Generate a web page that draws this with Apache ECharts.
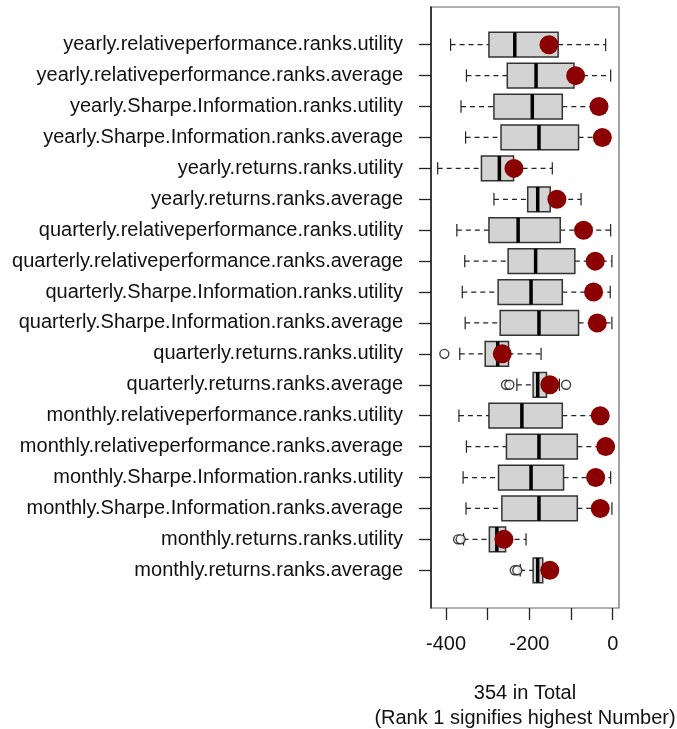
<!DOCTYPE html>
<html>
<head>
<meta charset="utf-8">
<script src="https://cdn.jsdelivr.net/npm/echarts@6/dist/echarts.min.js"></script>
<style>
  html, body { margin: 0; padding: 0; background: #fff; }
  #chart { width: 677px; height: 729px; }
</style>
</head>
<body>
<div id="chart"></div>
<script>
// rows listed top to bottom, as in the picture
const categories = [
  "yearly.relativeperformance.ranks.utility",
  "yearly.relativeperformance.ranks.average",
  "yearly.Sharpe.Information.ranks.utility",
  "yearly.Sharpe.Information.ranks.average",
  "yearly.returns.ranks.utility",
  "yearly.returns.ranks.average",
  "quarterly.relativeperformance.ranks.utility",
  "quarterly.relativeperformance.ranks.average",
  "quarterly.Sharpe.Information.ranks.utility",
  "quarterly.Sharpe.Information.ranks.average",
  "quarterly.returns.ranks.utility",
  "quarterly.returns.ranks.average",
  "monthly.relativeperformance.ranks.utility",
  "monthly.relativeperformance.ranks.average",
  "monthly.Sharpe.Information.ranks.utility",
  "monthly.Sharpe.Information.ranks.average",
  "monthly.returns.ranks.utility",
  "monthly.returns.ranks.average",
];

const lowerWhisker = [-389, -351, -364, -353, -420, -285, -374, -355, -361, -354, -367, -230, -369, -351, -359, -352, -358, -222];
const lowerHinge   = [-297, -253, -285, -268, -315, -204, -297, -251, -275, -270, -306, -191, -297, -255, -274, -266, -296, -191];
const medians      = [-235, -184, -193, -177, -272, -180, -227, -185, -196, -177, -276, -180, -218, -177, -196, -177, -278, -180];
const upperHinge   = [-131, -93, -121, -82, -238, -150, -126, -91, -121, -82, -250, -159, -121, -85, -118, -85, -257, -168];
const upperWhisker = [-17, -5, -30, -20, -145, -76, -5, -2, -6, -2, -172, -128, -25, -10, -5, -2, -208, -155];

// red points
const markValues = [-153, -89, -33, -25, -237, -134, -70, -42, -46, -37, -265, -151, -30, -17, -41, -30, -261, -151];

// outliers: row index (top = 0) and value
const outlierRows   = [10, 11, 11, 11, 16, 16, 17, 17];
const outlierValues = [-404, -256, -248, -112, -371, -365, -235, -229];

const xTicks = [-400, -300, -200, -100, 0];
const xTickLabels = [-400, -200, 0];

const n = categories.length;
const rowPos = (i) => n - i;

const FONT = "Liberation Sans, Arial, Helvetica, sans-serif";
const TEXT = "#111";

function renderBox(params, api) {
  const y = api.value(0);
  const lo = api.coord([api.value(1), y]);
  const q1 = api.coord([api.value(2), y]);
  const md = api.coord([api.value(3), y]);
  const q3 = api.coord([api.value(4), y]);
  const hi = api.coord([api.value(5), y]);
  const half = api.size([0, 0.4])[1];
  const cap = half / 2;
  const cy = q1[1];
  const dash = { stroke: "#222", lineWidth: 1.2, lineDash: [5, 4] };
  const solid = { stroke: "#222", lineWidth: 1.2 };
  return {
    type: "group",
    children: [
      { type: "line", shape: { x1: lo[0], y1: cy, x2: q1[0], y2: cy }, style: dash },
      { type: "line", shape: { x1: q3[0], y1: cy, x2: hi[0], y2: cy }, style: dash },
      { type: "line", shape: { x1: lo[0], y1: cy - cap, x2: lo[0], y2: cy + cap }, style: solid },
      { type: "line", shape: { x1: hi[0], y1: cy - cap, x2: hi[0], y2: cy + cap }, style: solid },
      {
        type: "rect",
        shape: { x: q1[0], y: cy - half, width: q3[0] - q1[0], height: half * 2 },
        style: { fill: "#d3d3d3", stroke: "#333", lineWidth: 1.5 },
      },
      { type: "line", shape: { x1: md[0], y1: cy - half, x2: md[0], y2: cy + half }, style: { stroke: "#000", lineWidth: 3.5 } },
    ],
  };
}

const rowTicks = categories.map((c, i) => rowPos(i));

const option = {
  animation: false,
  grid: {
    left: 431, right: 58, top: 7, bottom: 121,
    outerBoundsMode: "none",
    containLabel: false,
    show: true, borderColor: "#666", borderWidth: 1.2, backgroundColor: "transparent",
  },
  xAxis: {
    type: "value",
    min: -436,
    max: 15,
    axisLine: { show: false, onZero: false },
    splitLine: { show: false },
    axisTick: { show: true, customValues: xTicks, length: 12, lineStyle: { color: "#222", width: 1.3 } },
    axisLabel: { customValues: xTickLabels, fontSize: 20, fontFamily: FONT, color: TEXT, margin: 26 },
    name: "354 in Total\n(Rank 1 signifies highest Number)",
    nameLocation: "middle",
    nameGap: 73,
    nameTextStyle: { fontSize: 20, fontFamily: FONT, color: TEXT, lineHeight: 25 },
  },
  yAxis: {
    type: "value",
    min: -0.22,
    max: 19.22,
    axisLine: { show: true, onZero: false, lineStyle: { color: "#222", width: 1.6 } },
    splitLine: { show: false },
    axisTick: { show: true, customValues: rowTicks, length: 12, lineStyle: { color: "#222", width: 1.3 } },
    axisLabel: {
      customValues: rowTicks,
      fontSize: 20,
      fontFamily: FONT,
      color: TEXT,
      margin: 28,
      formatter: (v) => categories[n - Math.round(v)],
    },
  },
  series: [
    {
      type: "custom",
      renderItem: renderBox,
      encode: { x: [1, 2, 3, 4, 5], y: 0 },
      data: categories.map((c, i) => [rowPos(i), lowerWhisker[i], lowerHinge[i], medians[i], upperHinge[i], upperWhisker[i]]),
      z: 2,
    },
    {
      type: "scatter",
      symbol: "circle",
      symbolSize: 9,
      itemStyle: { color: "#fff", borderColor: "#111", borderWidth: 1.4 },
      data: outlierRows.map((r, k) => [outlierValues[k], rowPos(r)]),
      z: 3,
    },
    {
      type: "scatter",
      symbol: "circle",
      symbolSize: 19,
      itemStyle: { color: "#8b0000", opacity: 1 },
      data: markValues.map((v, i) => [v, rowPos(i)]),
      z: 4,
    },
  ],
};

const chart = echarts.init(document.getElementById("chart"), null, { renderer: "canvas" });
chart.setOption(option);
</script>
</body>
</html>
